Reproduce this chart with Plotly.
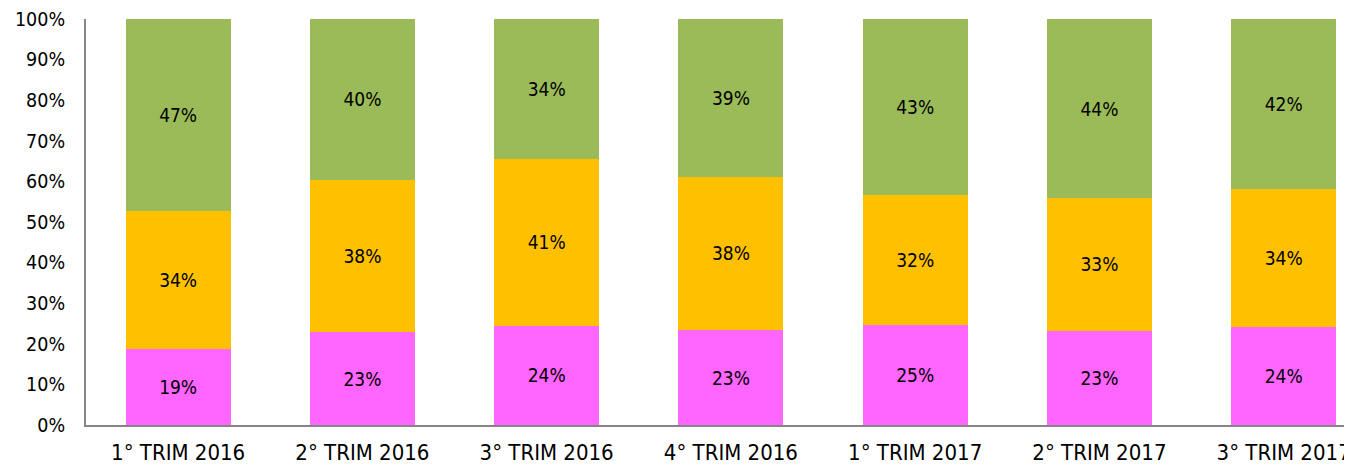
import plotly.graph_objects as go

categories = ["1° TRIM 2016", "2° TRIM 2016", "3° TRIM 2016", "4° TRIM 2016",
              "1° TRIM 2017", "2° TRIM 2017", "3° TRIM 2017"]
pink_vals = [18.7, 22.8, 24.4, 23.4, 24.6, 23.2, 24.1]
yellow_vals = [34.0, 37.6, 41.2, 37.7, 32.1, 32.7, 34.0]
green_vals = [47.3, 39.6, 34.4, 38.9, 43.3, 44.1, 41.9]
y_ticks = [0, 10, 20, 30, 40, 50, 60, 70, 80, 90, 100]
y_tick_labels = ["0%", "10%", "20%", "30%", "40%", "50%", "60%", "70%", "80%", "90%", "100%"]

FONT = "DejaVu Sans Condensed"
series = [
    ("pink", pink_vals, "#FF66FF"),
    ("yellow", yellow_vals, "#FFC000"),
    ("green", green_vals, "#9BBB59"),
]

fig = go.Figure()
for name, vals, color in series:
    fig.add_trace(go.Bar(
        x=categories, y=vals, name=name,
        marker=dict(color=color, line=dict(width=0)),
        texttemplate="%{y:.0f}%", textposition="inside",
        insidetextanchor="middle",
        textfont=dict(family=FONT, size=19, color="black"),
        constraintext="none",
        showlegend=False,
    ))

# page body has an 8px margin, so the figure is offset by 8px right/down
fig.update_layout(
    barmode="stack",
    bargap=0.43,
    width=1344, height=457,
    margin=dict(l=78, r=0, t=11, b=40),
    plot_bgcolor="white", paper_bgcolor="white",
    font=dict(family=FONT, size=20, color="black"),
)
fig.update_xaxes(
    range=[-0.5, 6.371],
    showline=True, linecolor="#868686", linewidth=2,
    showgrid=False, ticks="", ticklabelstandoff=7,
    tickfont=dict(family=FONT, size=22, color="black"),
)
fig.update_yaxes(
    range=[0, 100], tickvals=y_ticks, ticktext=y_tick_labels,
    showline=True, linecolor="#868686", linewidth=2,
    showgrid=False, zeroline=False, ticks="", ticklabelstandoff=15,
    ticklabeloverflow="allow",
    tickfont=dict(family=FONT, size=19.5, color="black"),
)

fig.write_html("out.html")
